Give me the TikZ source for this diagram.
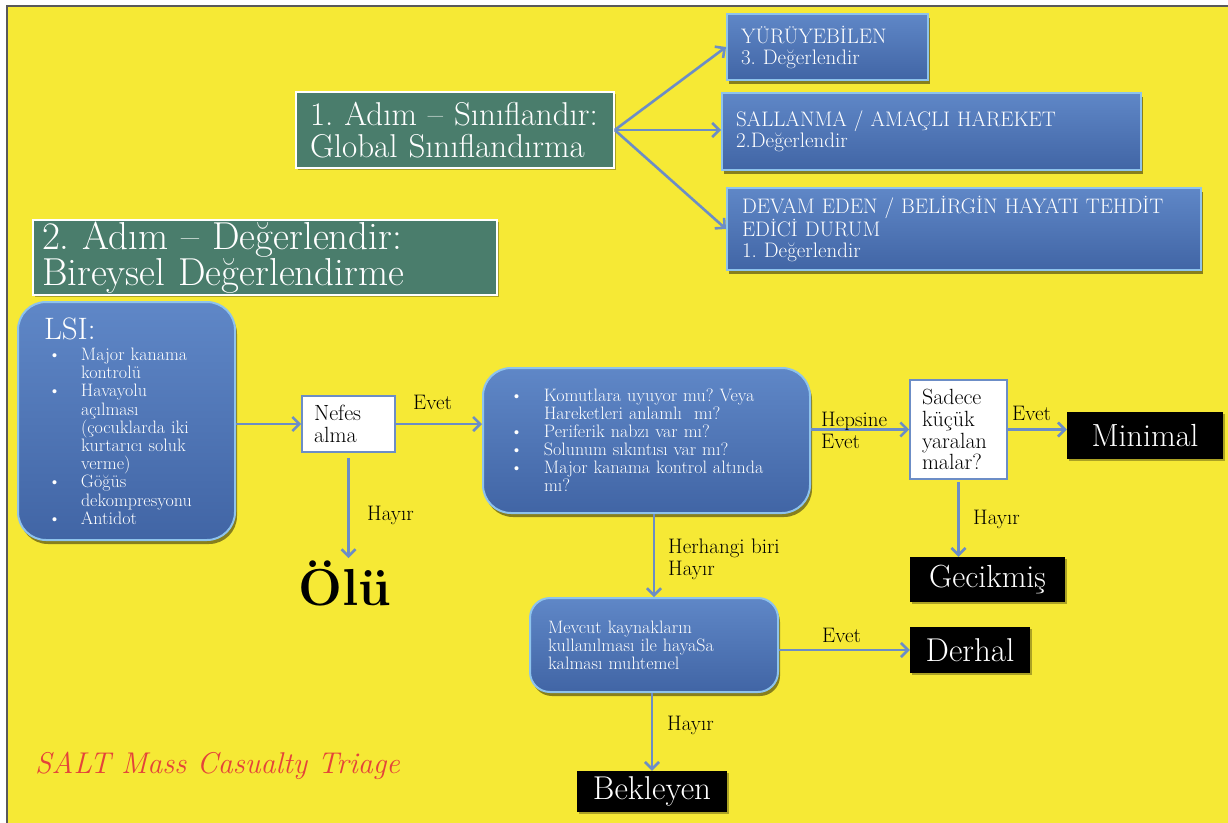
\documentclass[tikz,border=0pt]{standalone}
\usepackage{fontspec}
\usetikzlibrary{arrows.meta,shadows,calc}
\definecolor{bgy}{HTML}{F6E935}
\definecolor{grn}{HTML}{4A7D6C}
\definecolor{bluetop}{HTML}{5F87C7}
\definecolor{bluebot}{HTML}{4165A5}
\definecolor{blueedge}{HTML}{8EC3EC}
\definecolor{arrc}{HTML}{6C8DC6}
\definecolor{saltred}{HTML}{E4433A}
\newcommand\lbul{\makebox[37pt][l]{\hspace{4pt}\textbullet}}
\newcommand\lind{\hspace*{37pt}}
\newcommand\qbul{\makebox[34pt][l]{\textbullet}}
\newcommand\qind{\hspace*{34pt}}
\frenchspacing
\begin{document}
\begin{tikzpicture}[x=1pt,y=-1pt,
  greenbox/.style={draw=white, line width=1.5pt, fill=grn, text=white, align=left,
    inner ysep=0pt, drop shadow={shadow xshift=1.5pt, shadow yshift=-2pt, fill=black, opacity=0.3}},
  bluebox/.style={draw=blueedge, line width=2pt, top color=bluetop, bottom color=bluebot,
    text=white, align=left, inner ysep=0pt,
    drop shadow={shadow xshift=2pt, shadow yshift=-4pt, fill=black, opacity=0.45}},
  whitebox/.style={draw=arrc, line width=1.6pt, fill=white, text=black, align=left,
    inner ysep=0pt, font=\fontsize{22}{21.8}\selectfont},
  blackbox/.style={fill=black, text=white, align=center, inner sep=0pt,
    drop shadow={shadow xshift=1.5pt, shadow yshift=-2pt, fill=black, opacity=0.3}},
  lbl/.style={text=black, align=left, inner sep=0pt, font=\fontsize{21}{21.5}\selectfont},
  arr/.style={draw=arrc, line width=2.6pt, -{Straight Barb[length=7pt,width=14pt]}}
]
\useasboundingbox (0,0) rectangle (1228,822);
\fill[white] (0,0) rectangle (1228,822);
\draw[fill=bgy, draw=gray!70!black, line width=1.2pt] (7,6) rectangle (1232,826);

% step boxes
\node[greenbox, minimum width=318pt, minimum height=76pt, inner xsep=14pt, text width=290pt,
  font=\fontsize{33}{32}\selectfont] (s1) at (455,130) {1. Adım – Sınıflandır:\\Global Sınıflandırma};
\node[greenbox, minimum width=464pt, minimum height=75pt, inner xsep=9pt, text width=446pt,
  font=\fontsize{39}{34}\selectfont] (s2) at (265,257.5) {2. Adım – Değerlendir:\\Bireysel Değerlendirme};

% global sort boxes
\node[bluebox, minimum width=201pt, minimum height=66pt, inner xsep=14pt, text width=173pt,
  font=\fontsize{21}{21}\selectfont] (b1) at (827.5,47) {YÜRÜYEBİLEN\\3. Değerlendir};
\node[bluebox, minimum width=419pt, minimum height=77pt, inner xsep=14pt, text width=391pt,
  font=\fontsize{21}{21}\selectfont] (b2) at (931.5,131.5) {SALLANMA / AMAÇLI HAREKET\\2.Değerlendir};
\node[bluebox, minimum width=474pt, minimum height=82pt, inner xsep=15pt, text width=444pt,
  font=\fontsize{21}{21}\selectfont] (b3) at (964,229) {DEVAM EDEN / BELİRGİN HAYATI TEHDİT\\EDİCİ DURUM\\1. Değerlendir};

% LSI
\node[bluebox, rounded corners=28pt, minimum width=217pt, minimum height=238pt, inner xsep=26pt,
  text width=165pt, font=\fontsize{18}{18.2}\selectfont] (lsi) at (126.5,421)
  {{\fontsize{31}{18}\selectfont LSI:}\\[3pt]
   \lbul Major kanama\\ \lind kontrolü\\
   \lbul Havayolu\\ \lind açılması\\ \lind (çocuklarda iki\\ \lind kurtarıcı soluk\\ \lind verme)\\
   \lbul Göğüs\\ \lind dekompresyonu\\
   \lbul Antidot};

\node[whitebox, minimum width=93pt, minimum height=56pt, inner xsep=12pt, text width=69pt] (nefes) at (348.5,424) {Nefes\\alma};

\node[bluebox, rounded corners=28pt, minimum width=327pt, minimum height=145pt, inner xsep=27pt,
  text width=273pt, font=\fontsize{18}{18}\selectfont] (q) at (646.5,440.5)
  {\qbul Komutlara uyuyor mu? Veya\\ \qind Hareketleri anlamlı\ \ mı?\\
   \qbul Periferik nabzı var mı?\\
   \qbul Solunum sıkıntısı var mı?\\
   \qbul Major kanama kontrol altında\\ \qind mı?};

\node[whitebox, minimum width=97pt, minimum height=99pt, inner xsep=12pt, text width=73pt] (sadece) at (958.5,429.5) {Sadece\\küçük\\yaralan\\malar?};

\node[blackbox, minimum width=156pt, minimum height=47pt, font=\fontsize{32}{32}\selectfont] (minimal) at (1145,435.5) {Minimal};
\node[blackbox, minimum width=155pt, minimum height=45pt, font=\fontsize{32}{32}\selectfont] (gecikmis) at (987.5,579.5) {Gecikmiş};

\node[bluebox, rounded corners=20pt, minimum width=248pt, minimum height=94pt, inner xsep=18pt,
  text width=212pt, font=\fontsize{18}{18}\selectfont] (mevcut) at (654,645)
  {Mevcut kaynakların\\kullanılması ile hayaSa\\kalması muhtemel};

\node[blackbox, minimum width=120pt, minimum height=46pt, font=\fontsize{33}{32}\selectfont] (derhal) at (970,650) {Derhal};
\node[blackbox, minimum width=150pt, minimum height=41pt, font=\fontsize{33}{32}\selectfont] (bekleyen) at (652,791.5) {Bekleyen};

\node[inner sep=2pt, anchor=base, font=\fontsize{52}{54}\selectfont\bfseries] (olu) at (345,605) {Ölü};

\node[text=saltred, inner sep=0pt, anchor=base west, font=\fontsize{30}{30}\selectfont\itshape] (salt) at (35,773) {SALT Mass Casualty Triage};

% connectors
\draw[arr] (s1.east) -- (b1.west);
\draw[arr] (s1.east) -- (b2.west |- s1.east);
\draw[arr] (s1.east) -- (b3.west);
\draw[arr] (lsi.east |- nefes.west) -- (nefes.west);
\draw[arr] (nefes.east) -- (q.west |- nefes.east);
\draw[arr, shorten <=5pt] (nefes.south) -- (nefes.south |- olu.north);
\draw[arr] (q.east |- sadece.west) -- (sadece.west);
\draw[arr] (sadece.east) -- (minimal.west |- sadece.east);
\draw[arr, shorten <=2pt] (sadece.south) -- (sadece.south |- gecikmis.north);
\draw[arr] (mevcut.north |- q.south) -- (mevcut.north);
\draw[arr] (mevcut.east |- derhal.west) -- (derhal.west);
\draw[arr] (bekleyen.north |- mevcut.south) -- (bekleyen.north);

% labels
\node[lbl, anchor=base west] (l1) at (413,409) {Evet};
\node[lbl, anchor=base west] (l2) at (367,520) {Hayır};
\node[lbl, anchor=base west] (l3) at (821,448) {Hepsine\\Evet};
\node[lbl, anchor=base west] (l4) at (1012,420) {Evet};
\node[lbl, anchor=base west] (l5) at (973,524) {Hayır};
\node[lbl, anchor=base west] (l6) at (668,575) {Herhangi biri\\Hayır};
\node[lbl, anchor=base west] (l7) at (822,642) {Evet};
\node[lbl, anchor=base west] (l8) at (667,730) {Hayır};
\end{tikzpicture}
\end{document}
